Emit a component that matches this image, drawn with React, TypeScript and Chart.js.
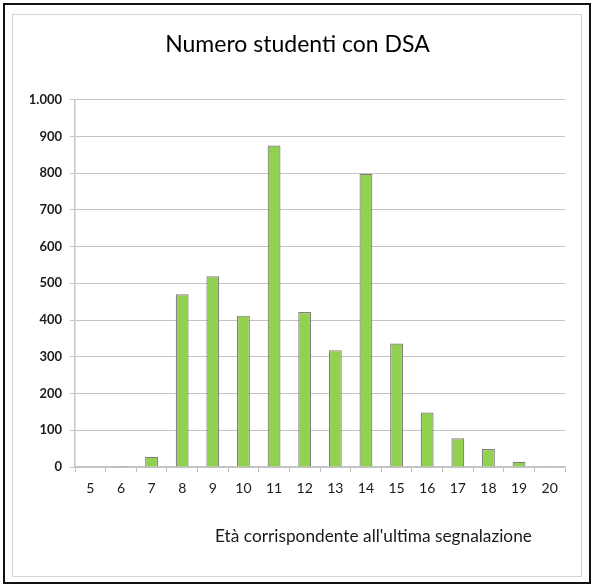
import React, { useEffect, useRef } from "react";
import { Chart, registerables } from "chart.js";

Chart.register(...registerables);

const ages = ["5", "6", "7", "8", "9", "10", "11", "12", "13", "14", "15", "16", "17", "18", "19", "20"];
const students = [0, 3, 28, 470, 519, 412, 875, 422, 318, 798, 336, 148, 78, 49, 14, 2];
const chartTitle = "Numero studenti con DSA";
const xAxisTitle = "Età corrispondente all'ultima segnalazione";
const yMax = 1000;
const yStep = 100;

const FONT = "Lato, 'Open Sans', sans-serif";

export default function App() {
  const ref = useRef<HTMLCanvasElement | null>(null);

  useEffect(() => {
    if (!ref.current) return;
    const chart = new Chart(ref.current, {
      type: "bar",
      data: {
        labels: ages,
        datasets: [
          {
            data: students,
            backgroundColor: "#92d050",
            borderColor: "#7f7f7f",
            borderWidth: 1.2,
            barPercentage: 0.42,
            categoryPercentage: 1,
          },
        ],
      },
      options: {
        responsive: false,
        animation: false,
        layout: { padding: { left: 16, right: 16, top: 0, bottom: 0 } },
        plugins: {
          legend: { display: false },
          tooltip: { enabled: false },
          title: {
            display: true,
            text: chartTitle,
            color: "#000",
            font: { family: FONT, size: 23, weight: "normal" },
            padding: { top: 15, bottom: 41 },
          },
        },
        scales: {
          x: {
            grid: {
              display: true,
              drawOnChartArea: false,
              drawTicks: true,
              tickLength: 5,
              color: "#bdbdbd",
              offset: true,
            },
            border: { display: true, color: "#c4c4c4", width: 1.5 },
            ticks: {
              color: "#1a1a1a",
              font: { family: FONT, size: 14 },
              padding: 8,
              maxRotation: 0,
              autoSkip: false,
            },
            afterFit: (scale: any) => {
              scale.height = 109;
            },
          },
          y: {
            min: 0,
            max: yMax,
            grid: {
              color: "#c4c4c4",
              tickLength: 5,
              drawTicks: true,
            },
            border: { display: true, color: "#c4c4c4", width: 1.5 },
            ticks: {
              stepSize: yStep,
              color: "#1a1a1a",
              font: { family: FONT, size: 13, weight: "bold" },
              padding: 8,
              callback: (v: any) => Number(v).toLocaleString("de-DE"),
            },
            afterFit: (scale: any) => {
              scale.width = 45;
            },
          },
        },
      },
    });
    return () => chart.destroy();
  }, []);

  return (
    <div style={{ position: "absolute", left: 0, top: 0, width: 592, height: 585, background: "#fff" }}>
      <div
        style={{
          position: "absolute",
          left: 3,
          top: 3,
          width: 584,
          height: 577,
          border: "2px solid #111",
          boxSizing: "content-box",
        }}
      />
      <div
        style={{
          position: "absolute",
          left: 12,
          top: 14,
          width: 568,
          height: 561,
          border: "1.5px solid #d4d4d4",
        }}
      />
      <canvas
        ref={ref}
        width={567}
        height={560}
        style={{ position: "absolute", left: 14, top: 16, width: 567, height: 560 }}
      />
      <div
        style={{
          position: "absolute",
          left: 215,
          top: 525,
          fontFamily: FONT,
          fontSize: 17.3,
          color: "#1a1a1a",
          whiteSpace: "nowrap",
        }}
      >
        {xAxisTitle}
      </div>
    </div>
  );
}
